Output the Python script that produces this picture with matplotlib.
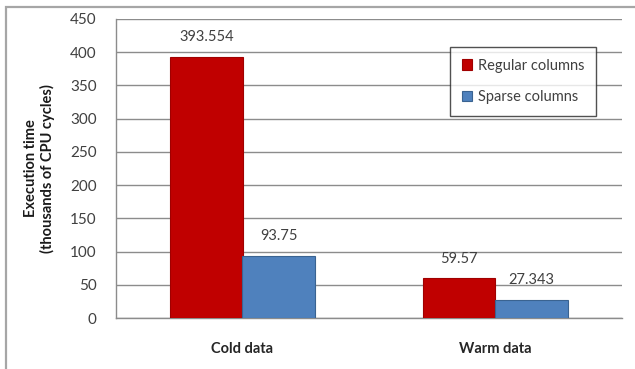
import matplotlib
matplotlib.use("Agg")
import matplotlib.pyplot as plt
from matplotlib.patches import Rectangle
import numpy as np

categories = ["Cold data", "Warm data"]
series_names = ["Regular columns", "Sparse columns"]
regular = [393.554, 59.57]
sparse = [93.75, 27.343]
y_ticks = [0, 50, 100, 150, 200, 250, 300, 350, 400, 450]

plt.rcParams["font.family"] = ["Lato", "DejaVu Sans"]

W, H = 635, 369
fig = plt.figure(figsize=(W / 100, H / 100), dpi=100)
fig.patch.set_facecolor("white")

# outer chart frame (left and top edges)
fig.add_artist(Rectangle((6 / W, -0.1), 1.2, 1.1 - 7 / H, transform=fig.transFigure,
                         fill=False, edgecolor="#a6a6a6", linewidth=1.6))

ax = fig.add_axes([116 / W, 1 - 318 / H, (622 - 116) / W, (318 - 19) / H])

x = np.arange(len(categories))
bw = 1 / 3.5
colors = ["#C00000", "#4F81BD"]
edges = ["#A00000", "#3A6391"]
for i, (vals, name) in enumerate(zip([regular, sparse], series_names)):
    pos = x + (i - 0.5) * bw
    ax.bar(pos, vals, width=bw, color=colors[i], edgecolor=edges[i],
           linewidth=0.8, label=name, zorder=3)
    for p, v in zip(pos, vals):
        ax.annotate(f"{v:g}", (p, v), xytext=(0, 9), textcoords="offset points",
                    ha="center", va="bottom", fontsize=10.5, color="#404040", zorder=4)

ax.set_xlim(-0.5, 1.5)
ax.set_ylim(0, 450)
ax.set_yticks(y_ticks)
ax.set_xticks(x)
ax.set_xticklabels(categories, fontsize=10.5, fontweight="bold", color="#262626")
ax.tick_params(axis="x", length=0, pad=17)
ax.tick_params(axis="y", length=0, pad=14, labelsize=11, labelcolor="#404040")
ax.yaxis.grid(True, color="#8c8c8c", linewidth=1.0, zorder=0)
ax.set_axisbelow(True)
for s in ["top", "right"]:
    ax.spines[s].set_visible(False)
for s in ["left", "bottom"]:
    ax.spines[s].set_color("#8c8c8c")
    ax.spines[s].set_linewidth(1.0)

ax.set_ylabel("Execution time\n(thousands of CPU cycles)", fontsize=10.5,
              fontweight="bold", color="#1a1a1a", labelpad=11, linespacing=1.15)

leg = ax.legend(loc="upper left", bbox_to_anchor=((450 - 116) / (622 - 116), 1 - (47 - 19) / (318 - 19)),
                frameon=True, fancybox=False, fontsize=10.5, handlelength=0.7,
                handleheight=0.7, handletextpad=0.4, labelspacing=1.2,
                borderpad=0.8, borderaxespad=0)
leg.get_frame().set_edgecolor("#262626")
leg.get_frame().set_linewidth(1.0)
for t in leg.get_texts():
    t.set_color("#404040")

fig.savefig("out.png", dpi=100, facecolor="white")
